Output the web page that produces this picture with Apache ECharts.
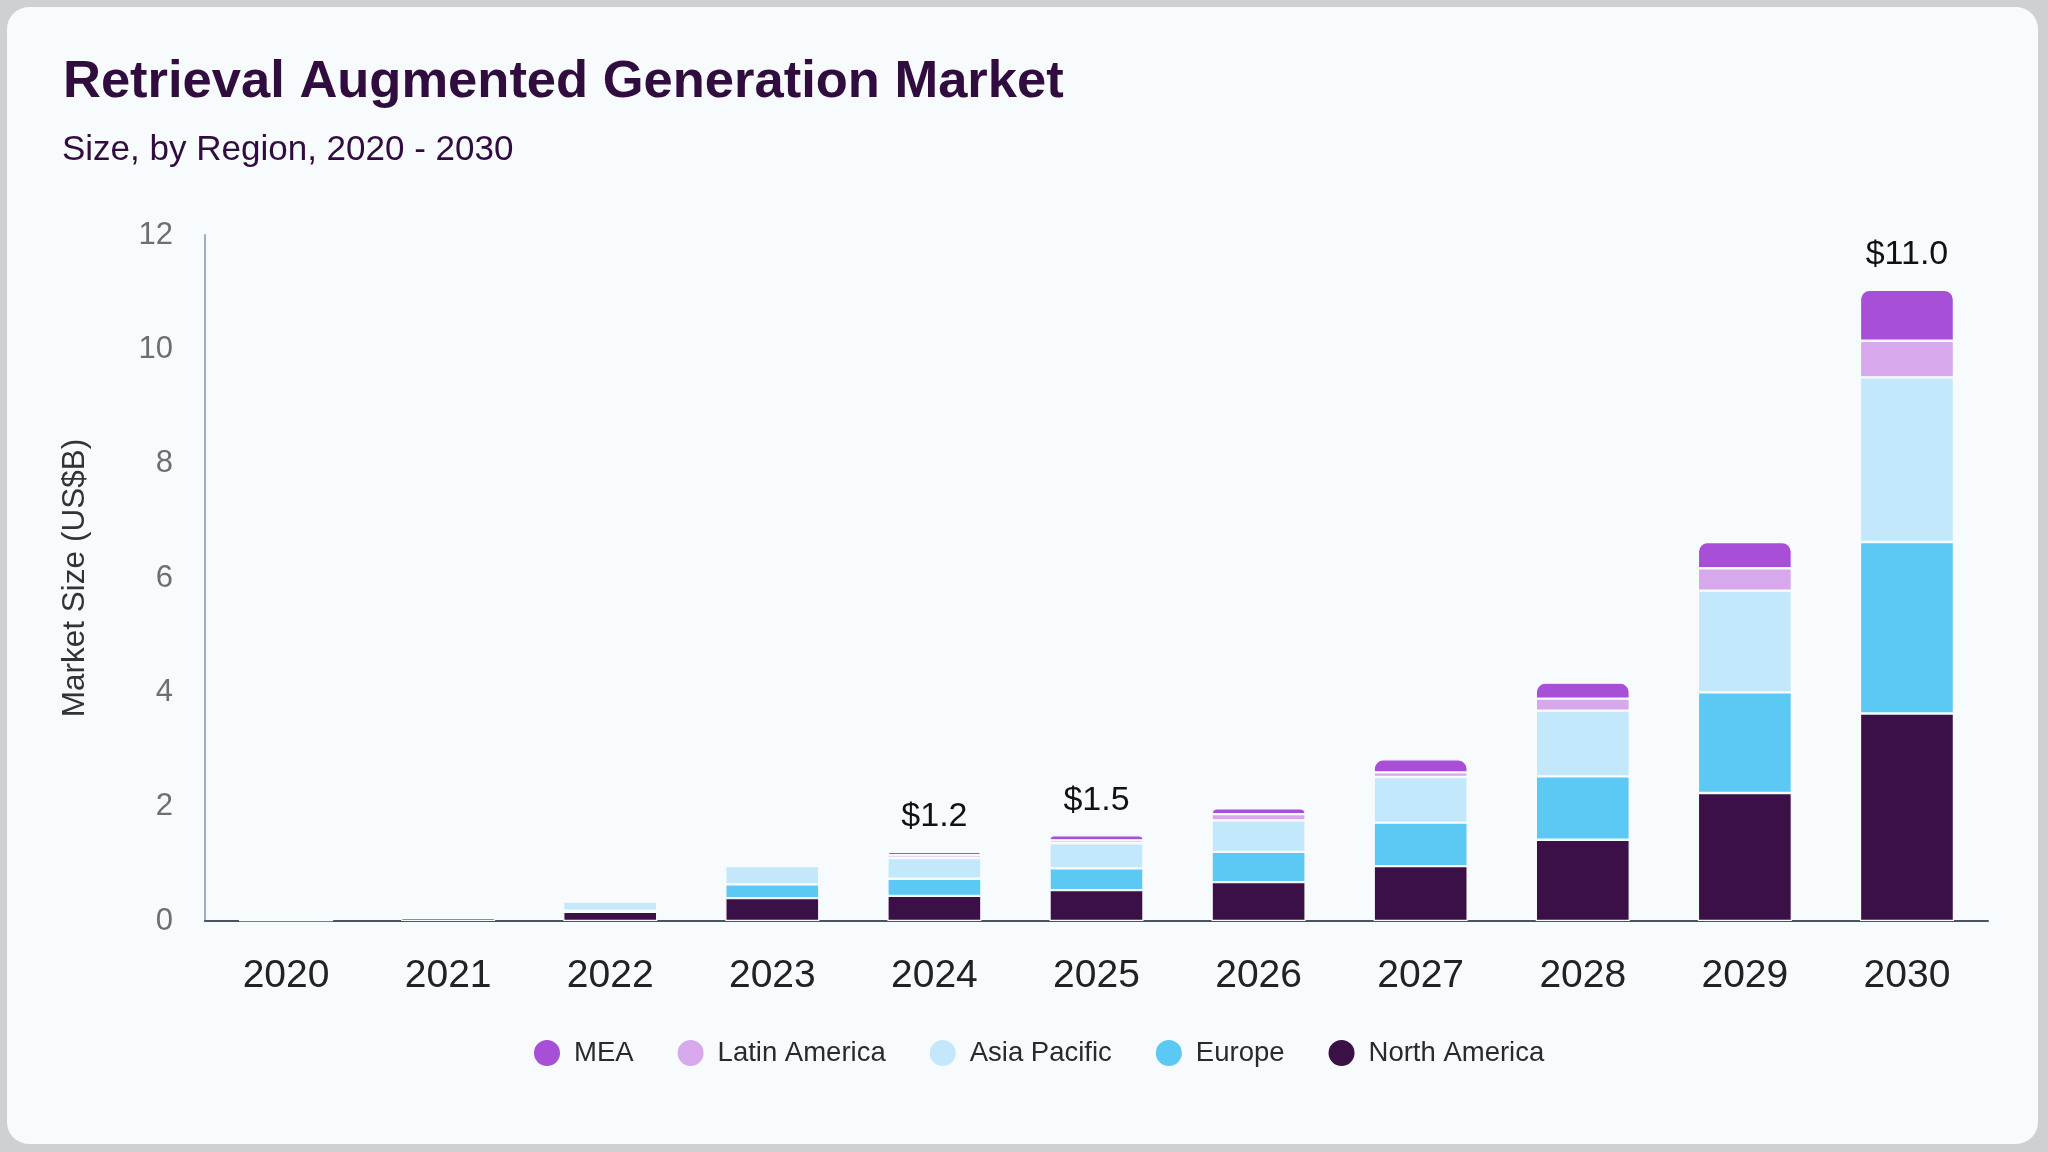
<!DOCTYPE html>
<html>
<head>
<meta charset="utf-8">
<script src="https://cdn.jsdelivr.net/npm/echarts@6/dist/echarts.min.js"></script>
<style>
  html, body { margin: 0; padding: 0; width: 2048px; height: 1152px; background: #cfd0d1; overflow: hidden; }
  #card { position: absolute; left: 7px; top: 7px; width: 2031px; height: 1137px; background: #f8fbfd; border-radius: 22px; }
  #chart { position: absolute; left: 0; top: 0; width: 2048px; height: 1152px; }
</style>
</head>
<body>
<div id="card"></div>
<div id="chart"></div>
<script>
const years = ['2020','2021','2022','2023','2024','2025','2026','2027','2028','2029','2030'];
const northAmerica = [0.01, 0.05, 0.16, 0.40, 0.44, 0.54, 0.68, 0.96, 1.42, 2.24, 3.63];
const europe       = [0.00, 0.00, 0.02, 0.24, 0.30, 0.38, 0.53, 0.76, 1.11, 1.76, 3.00];
const asiaPacific  = [0.00, 0.00, 0.16, 0.32, 0.36, 0.44, 0.55, 0.80, 1.15, 1.78, 2.88];
const latinAmerica = [0.00, 0.00, 0.00, 0.03, 0.05, 0.05, 0.11, 0.08, 0.21, 0.39, 0.64];
const mea          = [0.00, 0.00, 0.00, 0.04, 0.06, 0.09, 0.10, 0.23, 0.28, 0.46, 0.89];
const totalLabels  = ['', '', '', '', '$1.2', '$1.5', '', '', '', '', '$11.0'];
const yTicks = [0, 2, 4, 6, 8, 10, 12];

const FONT = '"Liberation Sans", Arial, Helvetica, sans-serif';
const colors = {
  'North America': '#3a1047',
  'Europe': '#5cc8f4',
  'Asia Pacific': '#c3e8fb',
  'Latin America': '#d8a8ec',
  'MEA': '#a74fd7'
};

const chart = echarts.init(document.getElementById('chart'), null, { renderer: 'canvas' });

function barSeries(name, data, isTop) {
  const s = {
    name: name,
    type: 'bar',
    stack: 'total',
    data: data,
    barWidth: '58%',
    itemStyle: {
      color: colors[name],
      borderColor: '#f8fbfd',
      borderWidth: 1.2,
      borderRadius: isTop ? [9, 9, 0, 0] : 0
    },
    emphasis: { disabled: true }
  };
  if (isTop) {
    s.label = {
      show: true,
      position: 'top',
      distance: 18,
      fontFamily: FONT,
      fontSize: 34,
      color: '#111111',
      formatter: p => totalLabels[p.dataIndex]
    };
  }
  return s;
}

chart.setOption({
  backgroundColor: 'transparent',
  animation: false,
  title: [
    {
      text: 'Retrieval Augmented Generation Market',
      left: 58, top: 51,
      textStyle: { fontFamily: FONT, fontWeight: 'bold', fontSize: 52.5, color: '#300c3f' }
    },
    {
      text: 'Size, by Region, 2020 - 2030',
      left: 57, top: 128,
      textStyle: { fontFamily: FONT, fontWeight: 'normal', fontSize: 35, color: '#300c3f' }
    }
  ],
  legend: {
    data: ['MEA', 'Latin America', 'Asia Pacific', 'Europe', 'North America'],
    left: 527, top: 1033,
    icon: 'circle',
    itemWidth: 28, itemHeight: 28,
    itemGap: 42,
    textStyle: { fontFamily: FONT, fontSize: 27.5, color: '#2a2a2a', padding: [0, 0, 0, 8] },
    selectedMode: false
  },
  grid: { left: 205, right: 60, top: 235, bottom: 231, containLabel: false },
  xAxis: {
    type: 'category',
    data: years,
    axisLine: { lineStyle: { color: '#4a5266', width: 2 } },
    axisTick: { show: false },
    axisLabel: { fontFamily: FONT, fontSize: 39, color: '#222222', margin: 36 }
  },
  yAxis: {
    type: 'value',
    min: 0, max: 12, interval: 2,
    name: 'Market Size (US$B)',
    nameLocation: 'middle',
    nameGap: 114,
    nameTextStyle: { fontFamily: FONT, fontSize: 31.5, color: '#333333' },
    axisLine: { show: true, lineStyle: { color: '#a3adc2', width: 2 } },
    axisTick: { show: false },
    splitLine: { show: false },
    axisLabel: {
      fontFamily: FONT, fontSize: 31, color: '#6e6e6e', margin: 32,
      formatter: v => yTicks.includes(v) ? String(v) : ''
    }
  },
  series: [
    barSeries('North America', northAmerica, false),
    barSeries('Europe', europe, false),
    barSeries('Asia Pacific', asiaPacific, false),
    barSeries('Latin America', latinAmerica, false),
    barSeries('MEA', mea, true)
  ]
});
</script>
</body>
</html>
